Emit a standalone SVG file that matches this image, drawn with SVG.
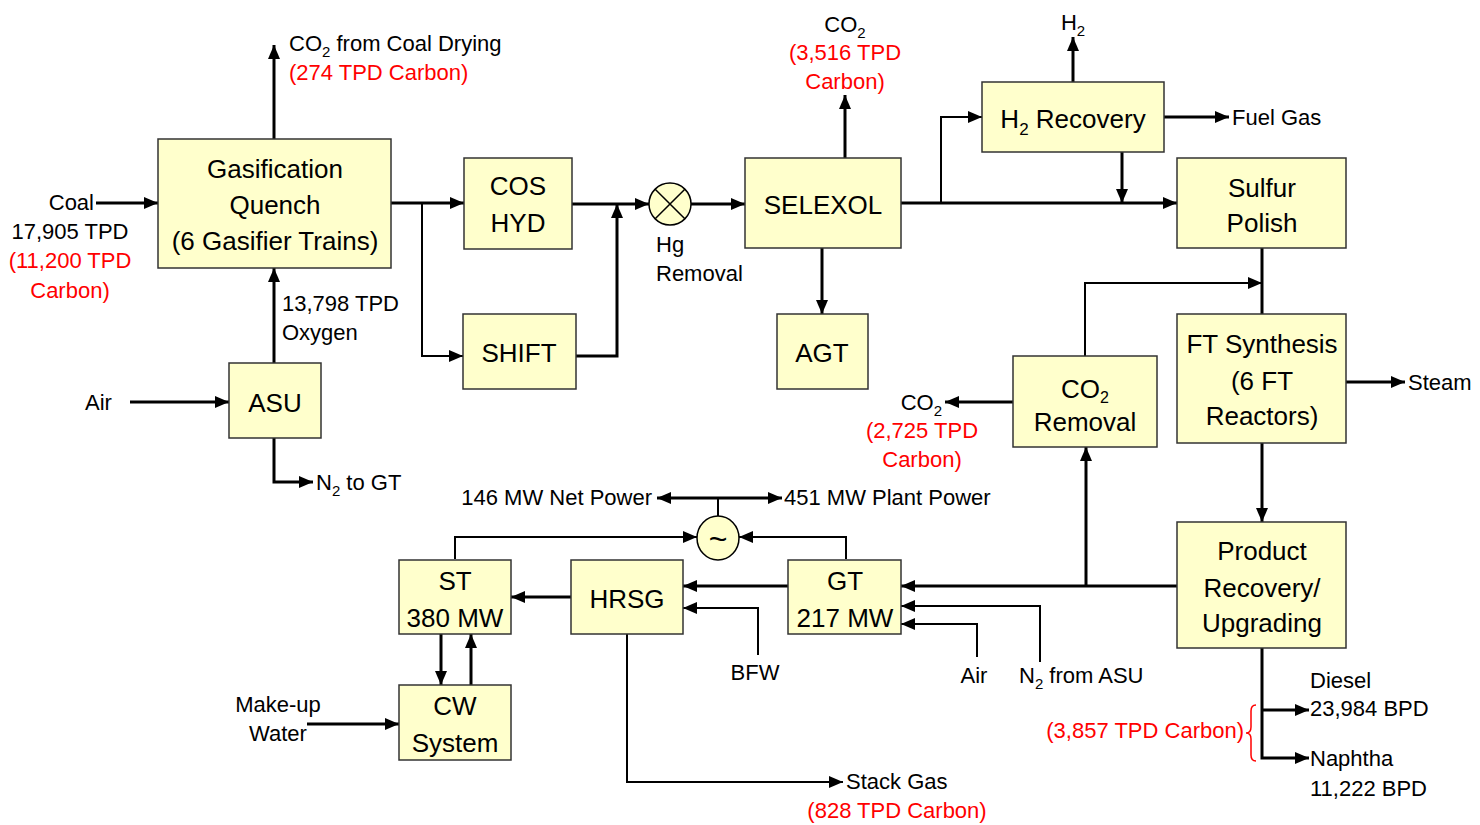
<svg xmlns="http://www.w3.org/2000/svg" width="1480" height="825" viewBox="0 0 1480 825">
<style>
text{font-family:'Liberation Sans',Arial,sans-serif;fill:#000}
.b{font-size:26px;text-anchor:middle}
.l{font-size:22px}
.r{fill:#ff0000}
.m{text-anchor:middle}
.e{text-anchor:end}
.box{fill:#ffffcc;stroke:#333;stroke-width:1.5}
#connectors path{fill:none;stroke:#000;stroke-width:3}
#connectors .t{stroke-width:2}
</style>
<defs>
<marker id="ah" markerWidth="14" markerHeight="12" refX="14" refY="6" orient="auto" markerUnits="userSpaceOnUse"><path d="M0,0 L14,6 L0,12 z" fill="#000"/></marker>
</defs>
<rect width="1480" height="825" fill="#fff"/>
<g id="connectors">
<path d="M96,203 H158" marker-end="url(#ah)"/>
<path d="M274,139 V45" marker-end="url(#ah)"/>
<path d="M274,363 V268" marker-end="url(#ah)"/>
<path d="M130,402 H229" marker-end="url(#ah)"/>
<path d="M274,438 V482 H313" marker-end="url(#ah)"/>
<path d="M391,203 H464" marker-end="url(#ah)"/>
<path class="t" d="M422,203 V356 H463" marker-end="url(#ah)"/>
<path d="M572,204 H649" marker-end="url(#ah)"/>
<path d="M576,356 H617 V204" marker-end="url(#ah)"/>
<path d="M691,204 H745" marker-end="url(#ah)"/>
<path d="M845,158 V95" marker-end="url(#ah)"/>
<path d="M822,248 V314" marker-end="url(#ah)"/>
<path d="M901,203 H1177" marker-end="url(#ah)"/>
<path class="t" d="M941,203 V117 H982" marker-end="url(#ah)"/>
<path d="M1073,82 V37" marker-end="url(#ah)"/>
<path d="M1164,117 H1229" marker-end="url(#ah)"/>
<path d="M1122,152 V203" marker-end="url(#ah)"/>
<path d="M1262,248 V314"/>
<path class="t" d="M1085,356 V283 H1262" marker-end="url(#ah)"/>
<path d="M1013,402 H945" marker-end="url(#ah)"/>
<path d="M1346,382 H1405" marker-end="url(#ah)"/>
<path d="M1262,443 V522" marker-end="url(#ah)"/>
<path d="M1177,586 H901" marker-end="url(#ah)"/>
<path d="M1086,586 V447" marker-end="url(#ah)"/>
<path class="t" d="M1040,662 V606 H901" marker-end="url(#ah)"/>
<path class="t" d="M977,657 V624 H901" marker-end="url(#ah)"/>
<path d="M788,586 H683" marker-end="url(#ah)"/>
<path class="t" d="M758,655 V608 H683" marker-end="url(#ah)"/>
<path d="M571,597 H511" marker-end="url(#ah)"/>
<path class="t" d="M455,559 V537 H697" marker-end="url(#ah)"/>
<path class="t" d="M846,559 V537 H739" marker-end="url(#ah)"/>
<path class="t" d="M718,517 V498"/>
<path d="M718,498 H657" marker-end="url(#ah)"/>
<path d="M718,498 H782" marker-end="url(#ah)"/>
<path d="M441,634 V685" marker-end="url(#ah)"/>
<path d="M471,685 V634" marker-end="url(#ah)"/>
<path d="M307,724 H399" marker-end="url(#ah)"/>
<path class="t" d="M627,634 V782 H843" marker-end="url(#ah)"/>
<path d="M1262,648 V758 H1309" marker-end="url(#ah)"/>
<path d="M1262,710 H1309" marker-end="url(#ah)"/>
</g>
<g id="gasification"><rect class="box" x="158" y="139" width="233" height="129"/>
<text class="b" x="275" y="178">Gasification</text><text class="b" x="275" y="214">Quench</text><text class="b" x="275" y="250">(6 Gasifier Trains)</text></g>
<g id="cos"><rect class="box" x="464" y="158" width="108" height="91"/><text class="b" x="518" y="195">COS</text><text class="b" x="518" y="232">HYD</text></g>
<g id="shift"><rect class="box" x="463" y="314" width="113" height="75"/><text class="b" x="519" y="362">SHIFT</text></g>
<g id="hg"><circle cx="670" cy="204" r="21" fill="#ffffcc" stroke="#000" stroke-width="1.5"/><path d="M655.2,189.2 L684.8,218.8 M684.8,189.2 L655.2,218.8" stroke="#000" stroke-width="1.5"/>
<text class="l" x="656" y="252">Hg</text><text class="l" x="656" y="281">Removal</text></g>
<g id="selexol"><rect class="box" x="745" y="158" width="156" height="90"/><text class="b" x="823" y="214">SELEXOL</text></g>
<g id="agt"><rect class="box" x="777" y="314" width="91" height="75"/><text class="b" x="822" y="362">AGT</text></g>
<g id="h2rec"><rect class="box" x="982" y="82" width="182" height="70"/><text class="b" x="1073" y="128">H<tspan font-size="17" dy="7">2</tspan><tspan dy="-7"> Recovery</tspan></text></g>
<g id="sulfur"><rect class="box" x="1177" y="158" width="169" height="90"/><text class="b" x="1262" y="197">Sulfur</text><text class="b" x="1262" y="232">Polish</text></g>
<g id="asu"><rect class="box" x="229" y="363" width="92" height="75"/><text class="b" x="275" y="412">ASU</text></g>
<g id="co2rem"><rect class="box" x="1013" y="356" width="144" height="91"/><text class="b" x="1085" y="398">CO<tspan font-size="16" dy="5">2</tspan></text><text class="b" x="1085" y="431">Removal</text></g>
<g id="ft"><rect class="box" x="1177" y="314" width="169" height="129"/><text class="b" x="1262" y="353">FT Synthesis</text><text class="b" x="1262" y="390">(6 FT</text><text class="b" x="1262" y="425">Reactors)</text></g>
<g id="product"><rect class="box" x="1177" y="522" width="169" height="126"/><text class="b" x="1262" y="560">Product</text><text class="b" x="1262" y="597">Recovery/</text><text class="b" x="1262" y="632">Upgrading</text></g>
<g id="st"><rect class="box" x="399" y="560" width="112" height="74"/><text class="b" x="455" y="590">ST</text><text class="b" x="455" y="627">380 MW</text></g>
<g id="hrsg"><rect class="box" x="571" y="560" width="112" height="74"/><text class="b" x="627" y="608">HRSG</text></g>
<g id="gt"><rect class="box" x="788" y="560" width="113" height="74"/><text class="b" x="845" y="590">GT</text><text class="b" x="845" y="627">217 MW</text></g>
<g id="cw"><rect class="box" x="399" y="685" width="112" height="75"/><text class="b" x="455" y="715">CW</text><text class="b" x="455" y="752">System</text></g>
<g id="generator"><ellipse cx="718" cy="538" rx="21" ry="22" fill="#ffffcc" stroke="#000" stroke-width="1.5"/><text x="718" y="550" font-size="32" text-anchor="middle">~</text></g>
<g id="labels">
<text class="l e" x="94" y="210">Coal</text>
<text class="l m" x="70" y="239">17,905 TPD</text>
<text class="l m r" x="70" y="268">(11,200 TPD</text>
<text class="l m r" x="70" y="298">Carbon)</text>
<text class="l" x="289" y="51">CO<tspan font-size="15" dy="6">2</tspan><tspan dy="-6"> from Coal Drying</tspan></text>
<text class="l r" x="289" y="80">(274 TPD Carbon)</text>
<text class="l" x="282" y="311">13,798 TPD</text>
<text class="l" x="282" y="340">Oxygen</text>
<text class="l" x="85" y="410">Air</text>
<text class="l" x="316" y="490">N<tspan font-size="15" dy="6">2</tspan><tspan dy="-6"> to GT</tspan></text>
<text class="l m" x="845" y="32">CO<tspan font-size="15" dy="6">2</tspan></text>
<text class="l m r" x="845" y="60">(3,516 TPD</text>
<text class="l m r" x="845" y="89">Carbon)</text>
<text class="l m" x="1073" y="30">H<tspan font-size="15" dy="6">2</tspan></text>
<text class="l" x="1232" y="125">Fuel Gas</text>
<text class="l" x="1408" y="390">Steam</text>
<text class="l e" x="942" y="410">CO<tspan font-size="15" dy="6">2</tspan></text>
<text class="l m r" x="922" y="438">(2,725 TPD</text>
<text class="l m r" x="922" y="467">Carbon)</text>
<text class="l e" x="652" y="505">146 MW Net Power</text>
<text class="l" x="784" y="505">451 MW Plant Power</text>
<text class="l m" x="755" y="680">BFW</text>
<text class="l m" x="974" y="683">Air</text>
<text class="l" x="1019" y="683">N<tspan font-size="15" dy="6">2</tspan><tspan dy="-6"> from ASU</tspan></text>
<text class="l m" x="278" y="712">Make-up</text>
<text class="l m" x="278" y="741">Water</text>
<text class="l" x="846" y="789">Stack Gas</text>
<text class="l m r" x="897" y="818">(828 TPD Carbon)</text>
<text class="l" x="1310" y="688">Diesel</text>
<text class="l" x="1310" y="716">23,984 BPD</text>
<text class="l" x="1310" y="766">Naphtha</text>
<text class="l" x="1310" y="796">11,222 BPD</text>
<text class="l e r" x="1244" y="738">(3,857 TPD Carbon)</text>
<path d="M1256,705 q-5,0 -5,6 v16 q0,6 -5,6 q5,0 5,6 v16 q0,6 5,6" fill="none" stroke="#ff0000" stroke-width="1.5"/>
</g>
</svg>
